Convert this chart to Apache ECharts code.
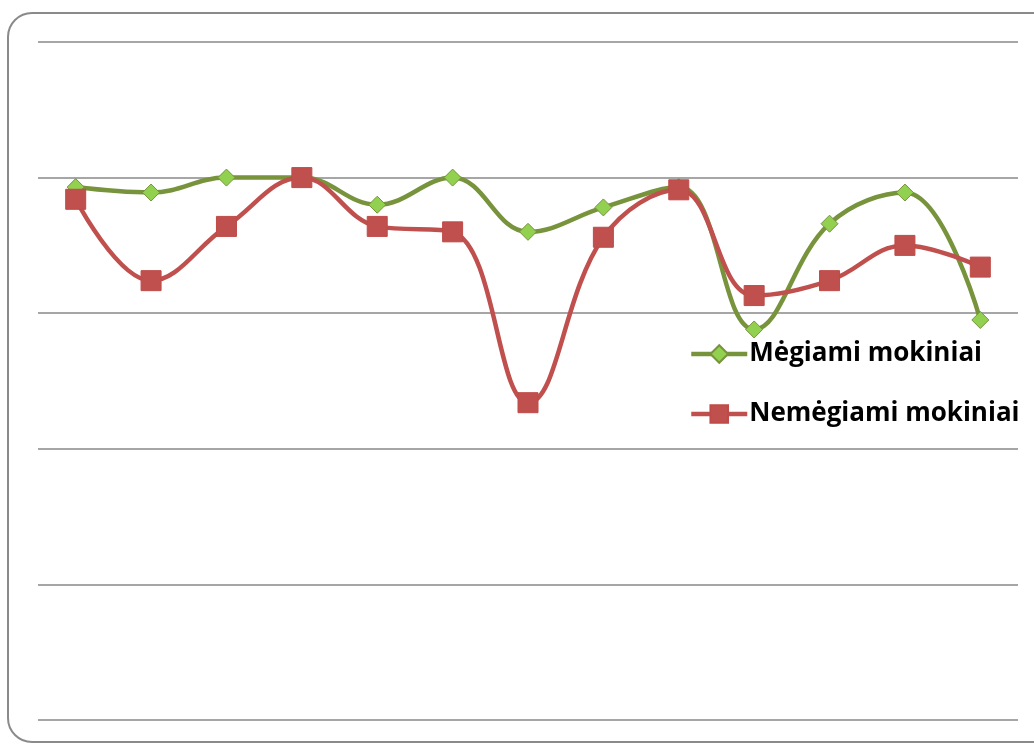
<!DOCTYPE html>
<html>
<head>
<meta charset="utf-8">
<script src="https://cdn.jsdelivr.net/npm/echarts@6/dist/echarts.min.js"></script>
<style>
  html, body { margin: 0; padding: 0; background: #fff; }
  #chart { width: 1034px; height: 745px; }
</style>
</head>
<body>
<div id="chart"></div>
<script>
// 13 points, no axis labels in the original
const categories = ["1", "2", "3", "4", "5", "6", "7", "8", "9", "10", "11", "12", "13"];
const megiami = [3.93, 3.89, 4.0, 4.0, 3.8, 4.0, 3.6, 3.78, 3.93, 2.88, 3.66, 3.89, 2.95];
const nemegiami = [3.84, 3.24, 3.64, 4.0, 3.64, 3.6, 2.34, 3.56, 3.91, 3.13, 3.24, 3.5, 3.34];
const yTicks = { min: 0, max: 5, interval: 1 };

let chart = echarts.init(document.getElementById("chart"));

let option = {
  backgroundColor: "#fff",
  animation: false,
  graphic: [{
    type: "rect",
    shape: { x: 8, y: 13, width: 1060, height: 729, r: 24 },
    style: { fill: "none", stroke: "#8a8a8a", lineWidth: 2 },
    z: -1
  }],
  grid: { left: 38, right: 16, top: 42, bottom: 25 },
  legend: {
    orient: "vertical",
    left: 684,
    top: 336,
    itemWidth: 56,
    itemHeight: 22,
    itemGap: 34,
    lineStyle: { width: 4.5 },
    textStyle: {
      fontFamily: "Open Sans",
      fontWeight: "bold",
      fontSize: 26,
      color: "#000",
      padding: [0, 0, 0, -3]
    },
    data: ["Mėgiami mokiniai", "Nemėgiami mokiniai"]
  },
  xAxis: {
    type: "category",
    data: categories,
    boundaryGap: true,
    axisLine: { show: false },
    axisTick: { show: false },
    axisLabel: { show: false }
  },
  yAxis: {
    type: "value",
    min: yTicks.min,
    max: yTicks.max,
    interval: yTicks.interval,
    axisLine: { show: false },
    axisTick: { show: false },
    axisLabel: { show: false },
    splitLine: { lineStyle: { color: "#888", width: 1.5 } }
  },
  series: [
    {
      name: "Mėgiami mokiniai",
      type: "line",
      smooth: 0.4,
      data: megiami,
      symbol: "diamond",
      symbolSize: 17,
      lineStyle: { color: "#77933C", width: 4.5 },
      itemStyle: { color: "#92D050", borderColor: "#77933C", borderWidth: 1 },
      z: 2
    },
    {
      name: "Nemėgiami mokiniai",
      type: "line",
      smooth: 0.4,
      data: nemegiami,
      symbol: "rect",
      symbolSize: 20,
      lineStyle: { color: "#C0504D", width: 4.5 },
      itemStyle: { color: "#C0504D", borderColor: "#BE4B48", borderWidth: 1 },
      z: 3
    }
  ]
};

chart.setOption(option);
</script>
</body>
</html>
